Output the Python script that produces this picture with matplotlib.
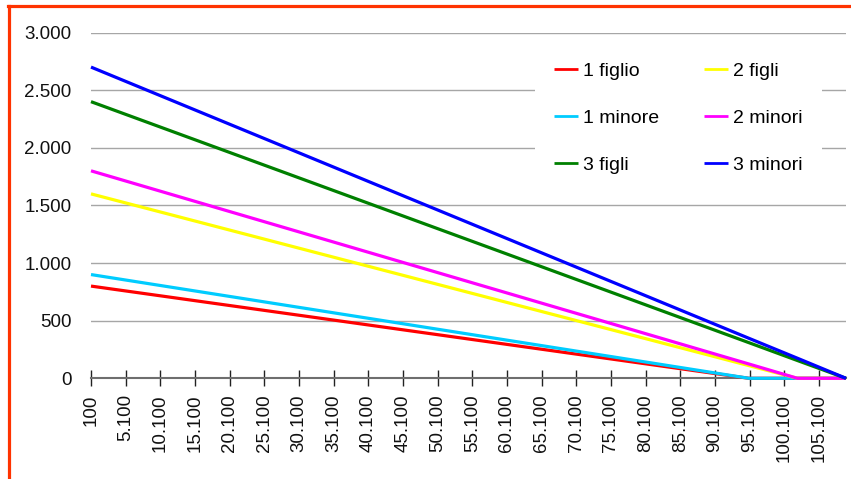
import matplotlib.pyplot as plt
from matplotlib.lines import Line2D
from matplotlib.ticker import FuncFormatter

# income breakpoints (x) and values of each series at those points
reddito = [100, 95000, 102000, 109000]

figlio_1 = [800, 0, 0, 0]
minore_1 = [900, 0, 0, 0]
figli_2 = [1600, 110, 0, 0]
minori_2 = [1800, 124, 0, 0]
figli_3 = [2400, 309, 154, 0]
minori_3 = [2700, 347, 174, 0]

x_ticks = list(range(100, 105101, 5000))
y_ticks = [0, 500, 1000, 1500, 2000, 2500, 3000]

plt.rcParams['font.family'] = ['Liberation Sans', 'DejaVu Sans']


def it_fmt(v, pos=None):
    return f"{int(round(v)):,}".replace(",", ".")


fig = plt.figure(figsize=(8.51, 4.79), dpi=100)
ax = fig.add_axes([91 / 851, 1 - 378.3 / 479, (846 - 91) / 851, (378.3 - 32.5) / 479])

lw = 2.3
series = [
    (figlio_1, '#FF0000', '1 figlio'),
    (minore_1, '#00CCFF', '1 minore'),
    (figli_2, '#FFFF00', '2 figli'),
    (minori_2, '#FF00FF', '2 minori'),
    (figli_3, '#008000', '3 figli'),
    (minori_3, '#0000FF', '3 minori'),
]
for vals, col, lab in series:
    ax.plot(reddito, vals, color=col, lw=lw, label=lab, zorder=4, clip_on=False,
            solid_capstyle='butt')

ax.set_xlim(100, 109000)
ax.set_ylim(0, 3000)
ax.set_xticks(x_ticks)
ax.set_yticks(y_ticks)
ax.xaxis.set_major_formatter(FuncFormatter(it_fmt))
ax.yaxis.set_major_formatter(FuncFormatter(it_fmt))

for s in ['top', 'right', 'left']:
    ax.spines[s].set_visible(False)
ax.spines['bottom'].set_color('#6e6e6e')
ax.spines['bottom'].set_linewidth(1.5)
ax.spines['bottom'].set_zorder(2)

ax.grid(axis='y', color='#a6a6a6', lw=1.0)
ax.set_axisbelow(True)

ax.tick_params(axis='y', length=0, pad=14, labelsize=13.5, labelcolor='#111111')
ax.tick_params(axis='x', direction='inout', length=11, width=1, color='#222222',
               pad=6, labelsize=13.5, labelcolor='#111111', labelrotation=90)

# legend, filled column by column
h = {l.get_label(): l for l in ax.get_lines()}
order = ['1 figlio', '1 minore', '3 figli', '2 figli', '2 minori', '3 minori']
leg = ax.legend([h[k] for k in order], order, ncol=2, fontsize=14,
                loc='upper left', bbox_to_anchor=(525 / 851, 1 - 33.5 / 479),
                bbox_transform=fig.transFigure, frameon=True, fancybox=False,
                edgecolor='none', facecolor='white', framealpha=1,
                handlelength=1.2, handletextpad=0.3, columnspacing=2.3,
                labelspacing=1.5, borderpad=1.0)
for lh in leg.get_lines():
    lh.set_linewidth(2)
leg.set_zorder(5)

# orange frame along top and left
fig.add_artist(Line2D([8.5 / 851, 8.5 / 851], [0, 1 - 6 / 479], color='#FF3300', lw=2.3,
                      transform=fig.transFigure))
fig.add_artist(Line2D([7.5 / 851, 1], [1 - 6.3 / 479, 1 - 6.3 / 479], color='#FF3300', lw=2.3,
                      transform=fig.transFigure))

fig.savefig('out.png', dpi=100)
